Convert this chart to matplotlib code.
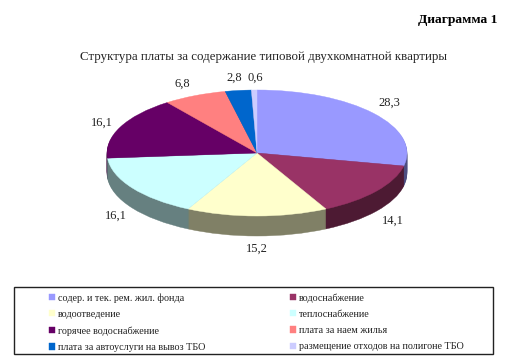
import matplotlib
matplotlib.use("Agg")
import matplotlib.pyplot as plt
from matplotlib.colors import to_rgb
from matplotlib.patches import Rectangle

plt.rcParams['font.family'] = ['Liberation Serif', 'DejaVu Serif']

categories = ["содер. и тек. рем. жил. фонда", "водоснабжение", "водоотведение",
              "теплоснабжение", "горячее водоснабжение", "плата за наем жилья",
              "плата за автоуслуги на вывоз ТБО", "размещение отходов на полигоне ТБО"]
values = [28.3, 14.1, 15.2, 16.1, 16.1, 6.8, 2.8, 0.6]
value_labels = ["28,3", "14,1", "15,2", "16,1", "16,1", "6,8", "2,8", "0,6"]
colors = ["#9999FF", "#993366", "#FFFFCC", "#CCFFFF", "#660066", "#FF8080", "#0066CC", "#CCCCFF"]

W, H = 526, 363
fig = plt.figure(figsize=(W / 100, H / 100), dpi=100, facecolor="white")


def px(x, y):
    return x / W, 1 - y / H


def draw_pie(ax, cols, shift=0):
    wedges, _ = ax.pie(values, colors=cols, startangle=90, counterclock=False, center=(0, shift))
    for w in wedges:
        w.set_edgecolor(w.get_facecolor())
        w.set_linewidth(0.3)
    return wedges


# круг в осях сплющен в эллипс за счет разного масштаба по x и y
cx, cy, rx, ry, depth = 257, 153, 150, 63, 20
ax = fig.add_axes([(cx - 1.1 * rx) / W, 1 - (cy + 1.6 * ry) / H, 2.2 * rx / W, 2.8 * ry / H])
side_colors = [tuple(c * 0.5 for c in to_rgb(col)) for col in colors]

for i in range(depth, 0, -1):
    draw_pie(ax, side_colors, -i / ry)
wedges = draw_pie(ax, colors)
ax.set_aspect("auto")
ax.set_xlim(-1.1, 1.1)
ax.set_ylim(-1.6, 1.2)
ax.axis("off")

# подписи значений
label_xy = [(389, 103), (393, 221), (257, 249), (116, 216), (102, 123), (182, 84), (234, 78), (255, 78)]
for txt, (x, y) in zip(value_labels, label_xy):
    fx, fy = px(x, y)
    fig.text(fx, fy, txt, ha="center", va="center", fontsize=9, color="#222222")

fx, fy = px(264, 57)
fig.text(fx, fy, "Структура платы за содержание типовой двухкомнатной квартиры",
         ha="center", va="center", fontsize=9.3, color="#222222")
fx, fy = px(458, 20)
fig.text(fx, fy, "Диаграмма 1", ha="center", va="center", fontsize=9.7, fontweight="bold")

# рамка легенды
fig.add_artist(Rectangle(px(14, 354), 479 / W, 67 / H, transform=fig.transFigure,
                         facecolor="white", edgecolor="#222222", linewidth=1))

order = [0, 2, 4, 6, 1, 3, 5, 7]
leg = fig.legend([wedges[i] for i in order], [categories[i] for i in order],
                 ncol=2, frameon=False, loc="upper left", bbox_to_anchor=px(47, 291),
                 fontsize=7.3, handlelength=0.6, handleheight=0.6, handletextpad=0.3,
                 columnspacing=8.3, labelspacing=0.72, borderpad=0.2, borderaxespad=0,
                 labelcolor="#222222")

fig.savefig("out.png", dpi=100)
